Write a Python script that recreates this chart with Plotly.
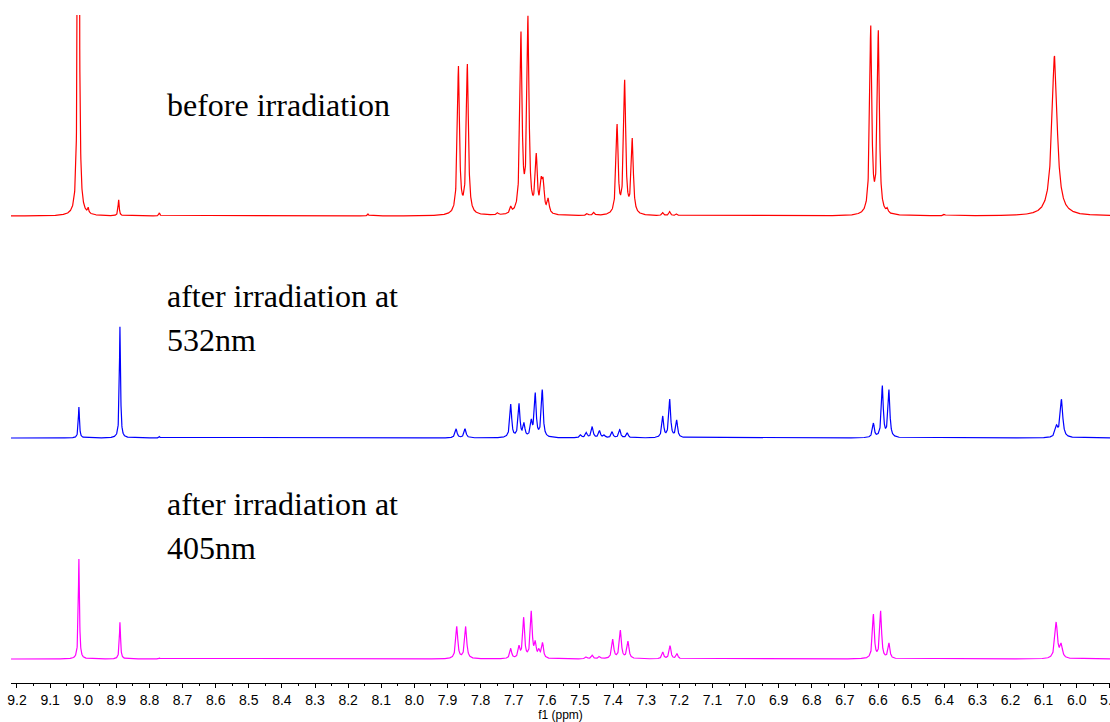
import numpy as np
import plotly.graph_objects as go

# ---- peak lists (ppm, height in display units, half-width in ppm) ----
red_ppm = [9.0145, 8.985, 8.893, 8.77, 8.14, 7.867, 7.840, 7.749, 7.709, 7.678, 7.657, 7.632,
           7.617, 7.611, 7.596, 7.478, 7.458, 7.388, 7.365, 7.342, 7.250, 7.229, 7.208,
           6.622, 6.599, 6.572, 6.40, 6.067]
red_h = [1000, 5, 16, 3, 2, 147, 149, 2, 6, 178, 193, 55,
         26, 27, 14, 2, 3, 88, 132, 74, 3, 4, 2,
         186, 181, 4, 1.5, 160]
red_w = [0.0018, 0.002, 0.002, 0.002, 0.002, 0.0037, 0.0037, 0.003, 0.003, 0.0037, 0.0037, 0.0037,
         0.0037, 0.0037, 0.0037, 0.003, 0.003, 0.0037, 0.0037, 0.0037, 0.003, 0.003, 0.003,
         0.0037, 0.0037, 0.003, 0.003, 0.0095]

blue_ppm = [9.013, 8.889, 8.77, 7.874, 7.847, 7.709, 7.684, 7.669, 7.647, 7.635, 7.614,
            7.498, 7.481, 7.463, 7.441, 7.427, 7.403, 7.380, 7.357,
            7.250, 7.229, 7.208, 6.614, 6.587, 6.567, 6.061, 6.046]
blue_h = [31, 112, 1.5, 9, 9, 33, 33, 13, 15, 43, 47,
          3, 5, 11, 7, 2.5, 6, 8, 5,
          21, 38, 17, 14, 51, 47, 10, 38]
blue_w = [0.002, 0.002, 0.002, 0.0036, 0.0036, 0.0033, 0.0033, 0.0033, 0.0033, 0.0033, 0.0033,
          0.0033, 0.0033, 0.0033, 0.0033, 0.0033, 0.0033, 0.0033, 0.0033,
          0.0033, 0.0033, 0.0033, 0.0033, 0.0033, 0.0033, 0.0045, 0.0045]

mag_ppm = [9.013, 8.889, 8.77, 7.872, 7.845, 7.709, 7.684, 7.670, 7.647, 7.635, 7.624, 7.613,
           7.481, 7.463, 7.441, 7.401, 7.378, 7.355, 7.250, 7.228, 7.207,
           6.614, 6.592, 6.567, 6.062, 6.047]
mag_h = [100, 37, 1, 32, 32, 10, 11, 40, 46, 14, 7, 15,
         2, 3.5, 2.5, 19, 28, 17, 6.5, 13, 5,
         44, 47, 15, 36, 13]
mag_w = [0.002, 0.002, 0.002, 0.0036, 0.0036, 0.0033, 0.0033, 0.0033, 0.0033, 0.0033, 0.0033, 0.0033,
         0.0033, 0.0033, 0.0033, 0.0036, 0.0036, 0.0036, 0.0033, 0.0033, 0.0033,
         0.0033, 0.0033, 0.0033, 0.0045, 0.0045]

tick_vals = [round(9.2 - 0.1 * i, 1) for i in range(34)]

# ---- layout constants ----
X_LEFT, X_RIGHT = 9.2181, 5.8995
Y_MAX = 668
RED_BASE, BLUE_BASE, MAG_BASE = 467, 245, 24
LABEL_X = 8.753

xs = np.linspace(X_RIGHT, X_LEFT, 9000)


def spectrum(ppm, h, w, base):
    y = np.full_like(xs, float(base))
    for p, a, hw in zip(ppm, h, w):
        y += a / (1.0 + ((xs - p) / hw) ** 2)
    return y


fig = go.Figure()
for ppm, h, w, base, col in [
    (red_ppm, red_h, red_w, RED_BASE, "#FF0000"),
    (blue_ppm, blue_h, blue_w, BLUE_BASE, "#0000FF"),
    (mag_ppm, mag_h, mag_w, MAG_BASE, "#FF00FF"),
]:
    fig.add_trace(go.Scatter(x=xs, y=spectrum(ppm, h, w, base), mode="lines",
                             line=dict(color=col, width=1.2), hoverinfo="skip",
                             showlegend=False))

serif = dict(family="Liberation Serif, Times New Roman, serif", size=32, color="black")
labels = [
    ("before irradiation", 683 - 105),
    ("after irradiation at", 683 - 296),
    ("532nm", 683 - 340),
    ("after irradiation at", 683 - 504),
    ("405nm", 683 - 548),
]
for txt, yv in labels:
    fig.add_annotation(x=LABEL_X, y=yv, xref="x", yref="y", text=txt, showarrow=False,
                       xanchor="left", yanchor="middle", font=serif)

fig.update_xaxes(range=[X_LEFT, X_RIGHT], showline=True, linecolor="black", linewidth=1,
                 ticks="outside", ticklen=4, tickwidth=1, tickcolor="black",
                 tickmode="array", tickvals=tick_vals, ticktext=[f"{v:.1f}" for v in tick_vals],
                 minor=dict(ticks="outside", ticklen=2, dtick=0.05, tick0=0, tickcolor="black"),
                 ticklabeloverflow="allow", automargin=False,
                 tickfont=dict(family="Liberation Sans, Arial, sans-serif", size=14, color="black"),
                 showgrid=False, zeroline=False,
                 title=dict(text="f1 (ppm)", standoff=2,
                            font=dict(family="Liberation Sans, Arial, sans-serif", size=12, color="black")))
fig.update_yaxes(range=[0, Y_MAX], visible=False, showgrid=False, zeroline=False, automargin=False)

fig.update_layout(width=1110, height=722, margin=dict(l=11, r=0, t=15, b=39, autoexpand=False),
                  plot_bgcolor="white", paper_bgcolor="white")

fig.write_html("out.html")
